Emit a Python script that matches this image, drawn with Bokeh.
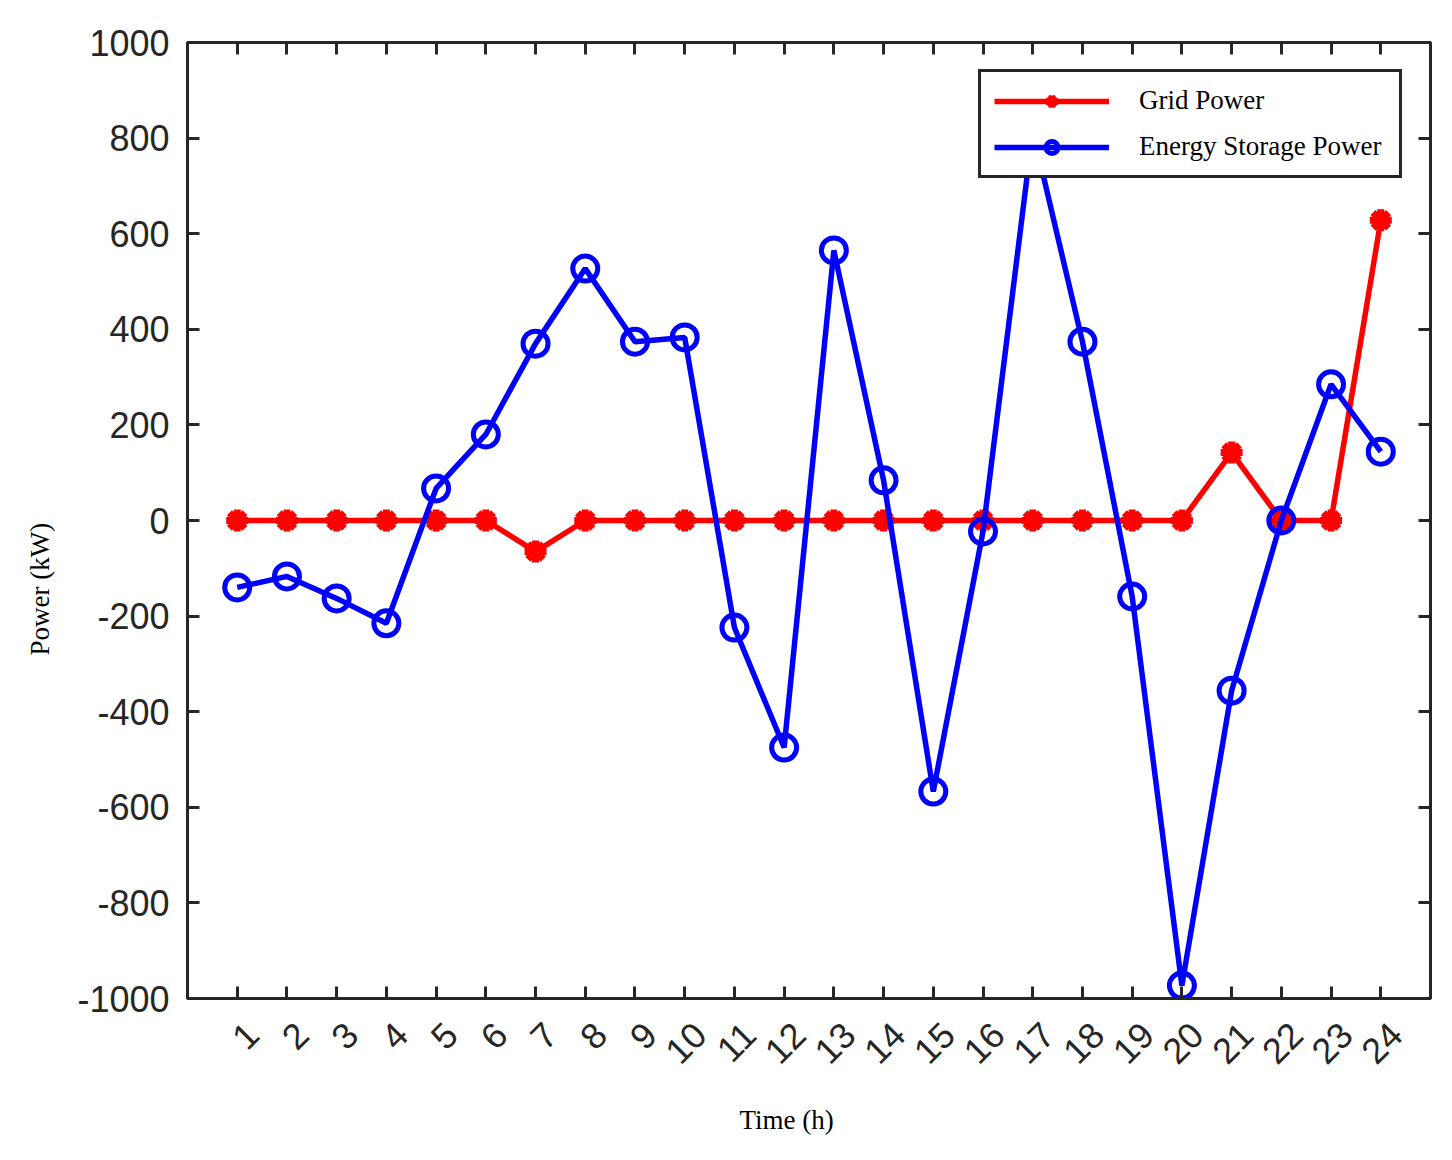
import numpy as np
from bokeh.plotting import figure
from bokeh.models import (ColumnDataSource, FixedTicker, LinearAxis, Legend, LegendItem, Range1d,
                          Title, CustomJSTickFormatter)
from bokeh.embed import file_html
from bokeh.resources import INLINE

hours = list(range(1, 25))
grid_power = [0, 0, 0, 0, 0, 0, -65, 0, 0, 0, 0, 0, 0, 0, 0, 0, 0, 0, 0, 0, 142, 0, 0, 628]
storage_power = [-140, -117, -163, -215, 67, 180, 370, 527, 374, 383, -224, -475, 565, 84,
                 -567, -23, 815, 374, -159, -973, -356, 0, 285, 144]
y_ticks = list(range(-1000, 1001, 200))

AX = "#262626"
W, H = 1444, 1159
X0, X1 = 0, 25
LABEL_SHIFT = 0.3  # rotated hour labels sit slightly right of their ticks

p = figure(width=W, height=H, output_backend="svg", toolbar_location=None,
           x_range=Range1d(X0, X1), y_range=Range1d(-1000, 1000),
           min_border_left=187, min_border_top=42, min_border_right=14, min_border_bottom=161)
p.extra_x_ranges = {"lab": Range1d(X0 - LABEL_SHIFT, X1 - LABEL_SHIFT)}
p.xgrid.visible = False
p.ygrid.visible = False
p.outline_line_color = AX
p.outline_line_width = 3
p.background_fill_color = "white"

src = ColumnDataSource(dict(x=hours, g=grid_power, s=storage_power))

gl = p.line("x", "g", source=src, line_color="#FF0000", line_width=5.5)
gm = p.scatter("x", "g", source=src, marker="asterisk", size=22, line_color="#FF0000", line_width=7)
sl = p.line("x", "s", source=src, line_color="#0000FF", line_width=5.5)
sm = p.scatter("x", "s", source=src, marker="circle", size=25, line_color="#0000FF", line_width=5,
               fill_alpha=0)

def style_axis(ax):
    ax.axis_line_color = AX
    ax.axis_line_width = 3
    ax.major_tick_line_color = AX
    ax.major_tick_line_width = 3
    ax.major_tick_in = 12
    ax.major_tick_out = 0
    ax.minor_tick_line_color = None
    ax.major_label_text_font = "Liberation Sans"
    ax.major_label_text_font_size = "36px"
    ax.major_label_text_color = AX

blank = CustomJSTickFormatter(code="return ''")

xa = p.xaxis[0]
xa.ticker = FixedTicker(ticks=hours)
style_axis(xa)
xa.formatter = blank
xa.major_label_standoff = 0

# hour labels (rotated), on an axis whose range is shifted a little
xl = LinearAxis(x_range_name="lab", ticker=FixedTicker(ticks=hours))
style_axis(xl)
xl.axis_line_color = None
xl.major_tick_line_color = None
xl.major_label_orientation = np.pi / 4
xl.major_label_standoff = 30
p.add_layout(xl, "below")

p.add_layout(Title(text="Time (h)", align="left", offset=552, standoff=49,
                   text_font="Liberation Serif", text_font_size="27px",
                   text_font_style="normal", text_color="black"), "below")

ya = p.yaxis[0]
ya.ticker = FixedTicker(ticks=y_ticks)
style_axis(ya)
ya.major_label_standoff = 18
ya.major_label_overrides = {v: str(v) for v in y_ticks}

p.add_layout(Title(text="Power (kW)", align="left", offset=343, standoff=35, vertical_align="top",
                   text_font="Liberation Serif", text_font_size="27px",
                   text_font_style="normal", text_color="black"), "left")

top = LinearAxis(ticker=FixedTicker(ticks=hours), formatter=blank)
style_axis(top)
top.major_label_standoff = 0
p.add_layout(top, "above")
right = LinearAxis(ticker=FixedTicker(ticks=y_ticks), formatter=blank)
style_axis(right)
right.major_label_standoff = 0
p.add_layout(right, "right")

legend = Legend(items=[LegendItem(label="Grid Power", renderers=[gl, gm]),
                       LegendItem(label="Energy Storage Power", renderers=[sl, sm])],
                location=(791, 820))
legend.border_line_color = AX
legend.border_line_width = 3
legend.border_line_alpha = 1
legend.background_fill_alpha = 1
legend.label_text_font = "Liberation Serif"
legend.label_text_font_size = "27px"
legend.label_text_color = "black"
legend.glyph_width = 115
legend.glyph_height = 30
legend.label_height = 30
legend.label_standoff = 30
legend.label_width = 247
legend.padding = 13
legend.spacing = 15
legend.margin = 0
p.add_layout(legend, "center")

open("out.html", "w").write(file_html(p, INLINE))
